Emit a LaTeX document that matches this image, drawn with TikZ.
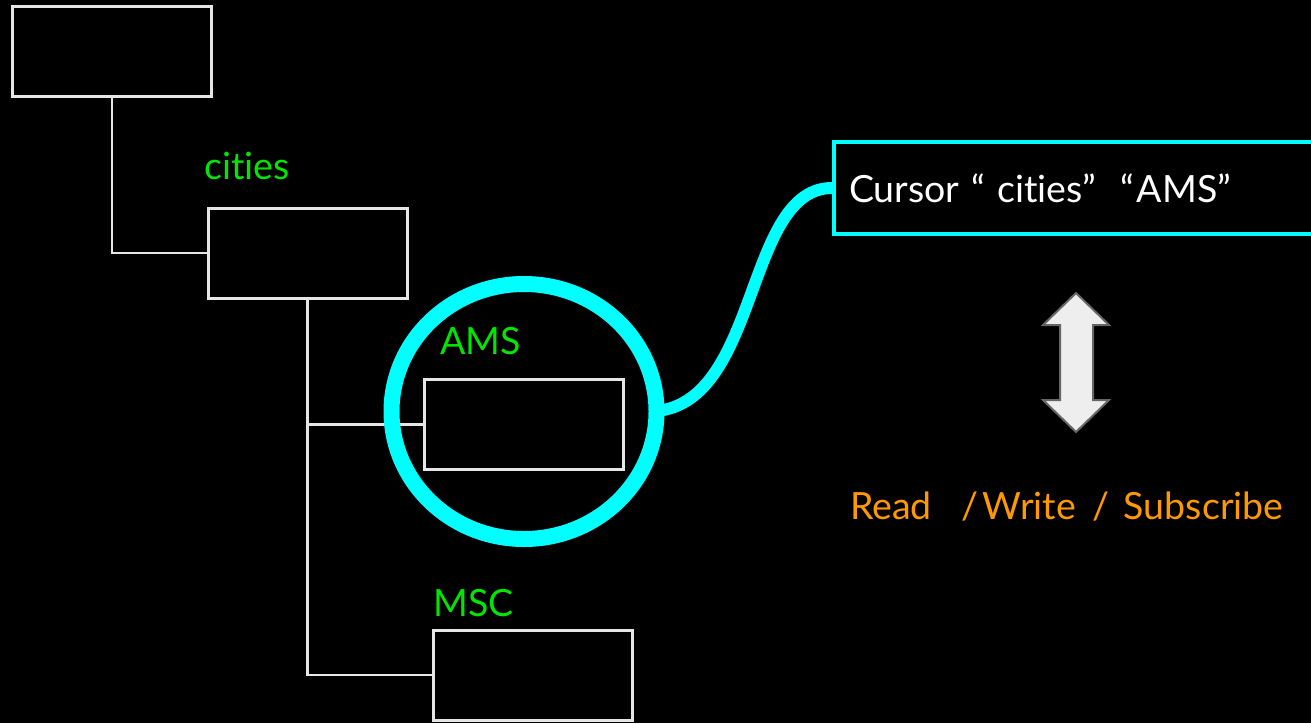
\documentclass[tikz,border=0pt]{standalone}
\usepackage{fontspec}
\setmainfont{Lato}[Ligatures=NoCommon]
\usepackage{tikz}
\usetikzlibrary{positioning,arrows.meta,calc}
\usepackage{xcolor}
\definecolor{treeline}{HTML}{E6E6E6}
\definecolor{cursorcyan}{HTML}{00FFFF}
\definecolor{keygreen}{HTML}{00E600}
\definecolor{opsorange}{HTML}{FF9900}
\definecolor{arrowfill}{HTML}{EEEEEE}
\definecolor{arrowedge}{HTML}{666666}

\begin{document}
\begin{tikzpicture}[x=1pt, y=-1pt,
    treebox/.style={draw=treeline, line width=3pt, minimum width=199pt, minimum height=90pt, inner sep=0pt},
    treelink/.style={draw=treeline, line width=2.5pt},
    bigtext/.style={anchor=base west, font=\fontsize{37.5}{42}\selectfont, inner sep=0pt},
    keylabel/.style={bigtext, text=keygreen}]
    % Black background fixes the page size
    \fill[black] (0, 0) rectangle (1311, 723);
    \useasboundingbox (0, 0) rectangle (1311, 723);

    % Tree of boxes
    \node[treebox] (root) at (112, 51.5) {};
    \node[treebox] (cities) at (307.5, 253) {};
    \node[treebox] (ams) at (524, 424.5) {};
    \node[treebox] (msc) at (533, 675) {};

    % Key labels
    \node[keylabel] (citieslabel) at (204, 179) {cities};
    \node[keylabel] (amslabel) at (440, 354) {AMS};
    \node[keylabel] (msclabel) at (433, 616) {MSC};

    % Links between parent and child
    \draw[treelink] (root.south) |- (cities.west);
    \draw[treelink] (cities.south) |- (ams.west);
    \draw[treelink] (cities.south) |- (msc.west);

    % Cursor box, running off the right edge
    \node[draw=cursorcyan, line width=4pt, fill=black, anchor=west, minimum width=500pt, minimum height=92pt, inner sep=0pt] (cursor) at (832, 188) {};
    \node[bigtext, text=white] (cursortext) at (849, 202) {Cursor\hspace{12pt}“\hspace{12pt}cities”\hspace{24pt}“\hspace{3pt}AMS”};

    % Highlight ring round the AMS node and its link to the cursor
    \draw[cursorcyan, line width=16pt] (524, 411.5) ellipse (132.5 and 127.5);
    \coordinate (ringeast) at (657, 411);
    \draw[cursorcyan, line width=12pt] (ringeast) .. controls (760, 400) and (745, 188) .. (cursor.west);

    % Double-headed arrow
    \draw[arrowedge, fill=arrowfill, line width=2pt, line join=miter]
        (1076, 293) -- (1109, 325) -- (1093, 325) -- (1093, 400) -- (1109, 400)
        -- (1076, 432) -- (1043, 400) -- (1060, 400) -- (1060, 325) -- (1043, 325) -- cycle;

    % Operations on the cursor
    \node[bigtext, text=opsorange] (ops) at (850, 519) {Read\hspace{30pt}/\hspace{4pt}Write\hspace{17pt}/\hspace{14pt}Subscribe};
\end{tikzpicture}
\end{document}
